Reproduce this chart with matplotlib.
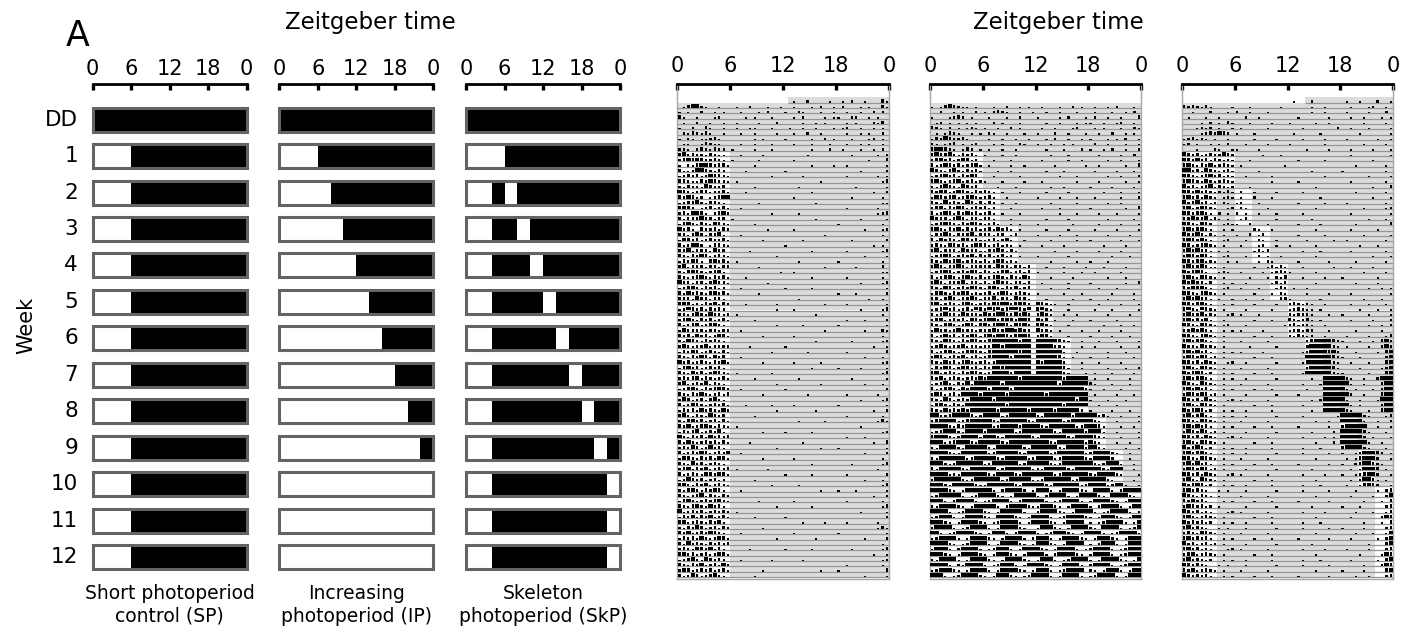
import matplotlib.pyplot as plt
from matplotlib.patches import Rectangle

# ---- schematic light schedules (hours of light), rows: DD, week 1..12 ----
week_labels = ['DD', '1', '2', '3', '4', '5', '6', '7', '8', '9', '10', '11', '12']
sp_light = [[]] + [[(0, 6)]] * 12
ip_light = [[], [(0, 6)], [(0, 8)], [(0, 10)], [(0, 12)], [(0, 14)], [(0, 16)],
            [(0, 18)], [(0, 20)], [(0, 22)], [(0, 24)], [(0, 24)], [(0, 24)]]
skp_light = [[], [(0, 6)], [(0, 4), (6, 8)], [(0, 4), (8, 10)], [(0, 4), (10, 12)],
             [(0, 4), (12, 14)], [(0, 4), (14, 16)], [(0, 4), (16, 18)],
             [(0, 4), (18, 20)], [(0, 4), (20, 22)], [(0, 4), (22, 24)],
             [(0, 4), (22, 24)], [(0, 4), (22, 24)]]
captions = ['Short photoperiod\ncontrol (SP)', 'Increasing\nphotoperiod (IP)',
            'Skeleton\nphotoperiod (SkP)']

# ---- actograms: one string per day, four 6-h chunks of 30-min bins ----
# ' ' none, '.' low, ':' medium, 'i' high, '#' saturated
dd_days = 10
start_hour = [12.5, 24, 14]

sp_act = [
    "//  .  :    . / . :  .   i. .",
    " .i##:.  .  / .  :   .  ./  .   . :  . / :   . .  i.",
    ". .  :  . . /  .   . :   /.  :.   .  . /  .  .  : :",
    "i.  .   .:  /   . .   .  /  . :    . ./.  ::  . . ",
    " .  :  .  ./ .    .   :  /    .  . .   /  . .   :.i",
    ".  :  i.  ./ .  ..   .   / .  .  .   . / .:  .  . .",
    " :.i:.i.  . /  .  .    . /  .  :  .   ./  .  . .  :",
    ". :. ..:i.  /     . .    /.     .  : . /   .   .: .",
    " ..  .i:..  /  .  .   .  /  .   .   .  /  .  . .  .",
    "::. :i:.i:: /.    .   .  /      .   :  / .   .  . :",
    "i#:i::.i:.. /  .    .    /     .      /   .     . :",
    ":i#i#i::i:. /.     .     /  .         /       .   i",
    ". :.i##i:ii./     .      /      .    ./  .        .",
    "i..:##i:.i: /   .        /.          /     .     :",
    ".:i:i.:#ii:./         .  /    .      /  .      . .",
    "ii:..i:#i::./ .          /        .  /          .i",
    ":.i::.#i::i /     .      /   .       /    .      .",
    "#i:.:ii.::i./   .        /      .    /        .  :",
    "i:#i.: .:i##/            /  .        /   .      . ",
    ".:ii#:.ii:. /      .     /       .   /          ..",
    "i#i: .:i.:i./  .         /           /  .      .  ",
    ":i.##i. :i#:/         .  /   .       /         .:i",
    "i.:i:#:i.ii /.           /       .   /     .     .",
    ".i#:.i:.#i:./     .      /           /.         . ",
    "#:i. i::i.i:/        .   /  .        /      .   .:",
    "i:.:#i.i:#. /  .         /         .  /          .",
    ".#i:i.:i::i./       .    /    .      /   .       :",
    "i.:##: .ii:./            /.          /        . . ",
    ":i#.:i:.#:i /    .       /      .    /  .       .i",
    "i:.i:#i.:i:./          . /           /      .    .",
    ".i:#i. i#:i./ .          /   .       /.         . ",
    "i#.:i:.i:.i:/      .     /         .  /    .     :",
    ":.i#i:.:i#. /           ./  .        /          ..",
    "i:.:i#:.i:i./   .        /      .    /  .       . ",
    "#i:.:i.:#i:./        .   /           /     .    .i",
    ".:i#:.i:i.: /  .         /.     .    /           .",
    "i.#:i:.i#:i./      .     /           /.   .      :",
    ":i:.#i:.:i. /            /   .       /       .  . ",
    "i#i.:.i:#.i:/   .      . /         . /  .        .",
    ".:#i:i.i:i: /          . /  .        /     .    .i",
    "i:.i#:.#:i.:/ .          /       .   /          . ",
    ":i#:.i:i.:i./     .      /           /  .   .    :",
    "i.:i#.:i#:. /          . /    .      /.          .",
    ".#:i:i.:i.i:/  .         /         .  /      .   i.",
    "i:i.#:i.:#i./       .    /  .        /          . ",
    ":.#i:.i:i:. /            /       .   /   .      .:",
    "i#:.:i#.i:i:/    .       /.          /        .  .",
    ".i:#i.:i:.i./         .  /     .     /  .        i",
    "i:.i:#i.#:i /  .         /           /      .   . ",
    "#:i.:i:.i:#./       .    /  .     .  /          .:",
    ".i#:i.:i:i. /            /      .    /.    .     .",
    "i:.#:i.:#i:./ .       .  /           /          .i",
    ":i:i#.i:.:i./     .      /   .       /   .       .",
    "i#.:i:#.i:. /          . /        .  /      .   . ",
    ".:i#:.i:i#i:/  .         /.          /           :",
    "i:.i:#:.:i.i/       .    /     .     /  .      .  ",
    ":#i.:i.i#:. /            /           /     .    .i",
    "i.:#i:.:i:i./   .     .  /  .        /.          .",
    ".i:i.#:i:.#:/          . /       .   /        .  :",
    "i#:.i:.#i:i /     .      /           /  .       . ",
    ":.i#:i.:i.i./            /   .     . /         .i.",
    "i:#.:i#:.i:./ .          /           /     .      .",
    ".i:i#.:i:#. /       .    /.     .    /          .:",
    "#:.i:i.#:i:i/            /           /  .   .     .",
    "i.#:.:i:i.i./    .       /    .      /        .  i",
    ":i:#i.:#:i. /          . /        .  /.          .",
    "i.:i:#i.:i:#/  .         /           /      .    :",
    ".#i:.i:i.#i./       .    /  .        /          . ",
    "i:.#:i.:i:. /            /      .    /   .      .i",
    ":i#.i:#.:i:i/ .      .   /           /         .  .",
    "i.:i:.#i:#i./            /.     .    /  .        :",
    ".:#i:i.:i.: /     .      /           /      .   . ",
    "i#:.i:#.:i:./         .  /   .       /          .i",
    ":.i#:.i:#i. /  .         /        .  /.   .      .",
    "i:.:i#.i:.i:/            /           /        .  :",
    ".i#:.:i:i#:./      .     /  .        /  .       . ",
    "i:.i#:.#:i. /          . /      .    /          .i",
    "#.:i:i.:i:i:/ .          /           /     .     .",
    ".i:#.i:#.:i./     .      /.          /           :",
    "i#.:i:.i:#. /            /    .    . /  .      .  ",
    ":.i:#i.:i.i:/       .    /           /         .i.",
    "i:#.:i:#i:. /  .         /  .        /.          .",
    ".i:i.#:.:#i./          . /       .   /      .    :",
    "i.#:i:.i:i:i/            /           /          . ",
    ":i:.#i:#.i. /    .       /.     .    /   .      .i",
    "i#:i.:i.:#i./            /           /        .  .",
    ".:i#:.#i:i: /  .      .  /    .      /          .:",
    "i:.i:#.:i.#:/            /           /  .       . ",
    ":#i.:i:i.:i./       .    /        .  /.          i",
    "i.:#i.:i#:. /     .      /           /      .    .",
]

ip_act = [
    "",
    ". .i#i:.. . /  .  :  . . / .   .  : .  / .  . :   . ",
    "  :  . .  : /. :i:.  .  ./  .  .   .  :/ .   .  . :",
    ".   .:i: .  / .   .  :  /.    . :   . / :  .  .   i",
    " .: . . . ./  : .   .   /  .  .   . . /.  .  .:  . ",
    "i:. : . .:. /.  .  : .  / .  .   .:   / . .   .  :.",
    " . .i:.  . ./ :.  .   . /.   :  .   . /  .  :  . . ",
    ".i:#i::i.  / .  .  .  ./  . :  .  .  /.   . . :  .",
    ":. .:i . .: /  . .   :. /.  .  . .   / :  .   .  .",
    "i##i:. .i: ./ .  .  .   /  .   .   : /.  . :  .  :",
    "i#ii#:.i:i. /.   .  .   /   .   .    /  .    .  :",
    ":i#:i.:#i.: /  .   .    / .     .  . /    .  .   .",
    "i.:#i:i.:i#./ .    .  . /    .      ./  .     .  i",
    "#i:.i#:.i:i./   .  .    /  .   .     / .    .   . ",
    ".:i#:i.i:#i /  .     .  /     .   .  /    .  .   :",
    "i#:.:i#.:i.:/.   .    .  / .       . /  .     .  .",
    ":.i#i:.#i:i /   .   .   /   .  .     /.    .    . ",
    "i:#i.:#i:.i:/i:. .   .  /  .    .    /   .   .   .",
    ".#i:i#.:i#:./:i.  .     /.    .   .  / .     .   :",
    "i:.#:i:.#i.i/.i: .  .   /   .     .  /    .  .    .",
    ":i#.i:#i.:i:/i.:   .    / .   .      /.       .  i",
    "i.:#i.i:#:i./:i. .   .  /     .   .  /  .   .    .",
    "#i:i.:#i.i:./i:.   .    /  .    .    /    .     . :",
    ".:i#i:.i:#i:/.:i.  . .  /.       .   /  .    .   . ",
    "i#:.i:#.i:i./:i.#:i. .  /  .    .    / .    .    .",
    ".:i#:.i:i#.:/i:.i: .:   /.    .   .  /    .    .  :",
    "i.#:i:.#i:i./.:i.:#.  . /   .     .  /.      .   . ",
    ":i:.#i:i.:#i/i.:i.:. .  / .    .     /   .    .   i",
    "i#.:i:.#:i:./.i:#:.i.   /    .    .  /  .    .    .",
    ".:i#i.:i:#.i/:i.:i.: .  /.      .    /     .   .  :",
    "i:.#:i#.:i:./i.:#i.:.   /   .     .  /.   .       .",
    "i#:.:i#i.:i:/:i.#i:.i:.:/  .   .    ./   .    .   .",
    ".:i#i.:i:#i./i:.:i#.:i.i/.     .   .  / .     .    :",
    "i.:i#:.i#:.i/.:i#:.i:.#:/   .    .   /    .   .   .",
    ":#i.:i:#.i:./i.:#i:.:i.:/ .     .    /.       .  i ",
    "i:.#i.:i:#i:/.i#:.i:#.:i/   .   .    /  .   .     .",
    ".i#:.i:#i.:./:i.:#i.:i:./.     .   . /     .    . :",
    "i:.i#:.i:#i./i:#.:i.#i:./  .     .   /.   .     .  ",
    "i#.:i:.i#:.:/i:#i##:i#i:/#i:..  .    /  .    .   . ",
    ".:i#:i.:i.#i/:#i#:i##i:#/i#:.   .    / .   .     . ",
    "i.:#i:.#:i:./#i:##i:#i#:/:#i.  .  .  /    .    .  :",
    ":i#.:i:i.#i:/i##:i#i:##i/#:i .   .   /.     .     .",
    "i:.i#:.:#i.i/#:i##i.#i#:/i#:.   .    /   .   .  .  ",
    ".#i:.i#:i:.:/:i#i:##i#:i/#i:. .    . /  .    .    .",
    "i.:#:i.i:#i./i#:##i:i##i/:#i.   .    /.    .   .  :",
    "i:.#i:.i:#i:/:i######:##/#####i:.  . /  .   .    . ",
    ".i#:.:i#.i:./i:##:######/####:i.   . / .     .   .:",
    "i.:i#:.:i#i:/.i######i##/######.  .  /    .   .   .",
    ":#i.:i:#.:i./:i####:####/#####i. .   /.   .     .  ",
    "i:.#:i.i#:.:/i.:########/#:####:   . /  .    .    .",
    ".i:#i.:#i:i./i:##i######/######i.  . /    .   .  :.",
    "i#.:i:.i:#i:/.:####:####/######:.   ./ .   .    .  ",
    "i:#.:i:.:i:#/:#######:###/######:#####/ .  .    .  .",
    ".:i#:.i:#.##/####:#######/#####:######/i.   .   .  .",
    "i.:i#:.#:###/#:####:#####/###########:/.  .   .    :",
    ":#i.:i.####:/#####:######/##:#########/ .    .   .  .",
    "i:.#i.:i:###/##:#########/#########:##/.   .   .    .",
    ".i#:.i:.####/#####:######/######:#####/  .   .     . ",
    "i:.#:i:#:###/###:######:#/####:#####:/.    .   .  :",
    "##::i####i.:/####.:######/:.######:###/##:i.  .   . ",
    ":i####.:i###/##:.######:./######.:####/#:.   .    . ",
    "####:.i:####/##.:####:###/#:.######.:#/##i.   .  . ",
    ".:i###:.####/:######.:###/####:.#####:/###.  .    .",
    "i###:.:####./###:.######:/.######:.###/#i:.   .   .",
    "###.:i###:.#/####:.######/###:.######./#:.   .  . ",
    ":.####:.####/#:.######:.#/#####:.####:/##:.    .  .",
    "####:..#####/#.:#####:.##/###.:######./:####:.  .  ",
    ":.######.:##/###:.#####.:/####.:#####:/.####:   .  ",
    "###:.:######/.:######.:##/###:.:######/#:.:###.  . ",
    "i.#####:.###/###.:######./:.#####:.###/###:.###  . ",
    "####.:.#####/#:.####:.###/####.:######/:.####:.   .",
    ":######:.:##/####.:#####./.:######.:##/####:.    . ",
    "###:.#####:./.######:.###/##:.######.:/####.:##.  .",
    "####:. .####/##. :####: .#/###. .####:./ ####. :####",
    ".:#####. .:#/###:. .#####/. :####. .##/##:. ####:. ",
    "###. :####. /.:####. :###/##. .:####. /.####:. .###",
    ":.####:. .##/###. :####:./.###:. .####/. :####. .##",
    "####. .:####/:. .#####. /:####:. .###/#. .:####. :#",
    ".:###. .####/:. ####:. .#/###. .:####:/. .###:. .##",
    "###:. .####:/. .:####. .#/###:. .####/. .:####. .##",
    ":####. .:###/#. .####:. /.###:. .####/:. ####. .:##",
    "##. .:####:./ .###. :####/. .:###:. .#/###. .:####.",
    ".:####. .###/#:. .####. :/###. .####:./ .###:. .###",
    "####:. .:###/#. .####:. ./###:. .####/. :###. .####",
    ".###. :####./ .:###. .###/#:. .####. ./:####. .:###",
    "###:. .####:/. .###:. .##/##. :####:. /.####. .:###",
    ":.####. .###/#:. .####:. /.###. .:####/. .####:. .#",
    "####. :.####/. .:###. .##/##:. .####. /:####. .:###",
    ".:###:. .###/#. .####:. ./###. .:####/:. .###. .###",
    "###. .:####:/. .###:. .:#/###. .####. /.:####. .###",
]

skp_act = [
    "// .   :  / .  .   :  . ",
    "i:i:.i.    ./   .      ./     .  .   /  .   .:  . ",
    "  .   :   . /:  .   .   /     .  .   / .    .   :",
    " .   .  .   /  :  .     /  .      .  /  .  .   . .",
    "    . : . i./   .    .  /.     .  .  /     .    . ",
    "   .:.: .  ./ .     .   /   .       :/  .   .    .",
    "    .:i:#i: /.   .      / .     .    /    .      .",
    ".:i.:. .  . /    .    .  /   .    .   / .      .  .",
    ".: .  . . : /  .    .   /.       .   /     .    . ",
    "   .   :.  ./.    .     /    .    .  /  .    .   .",
    "#i:i.:i::#i:/      .   . /           /  .        .",
    "#i:#:i.i:.:./   .        /  .     .  /       .    ",
    "i#:.i:#.:i:./ .         ./           /   .      . ",
    "##:i.#i:.:i./     .      /     .     /.         . ",
    "#i:.:i#:i.:./  .     .   /        .  /      .    .",
    "i#i:.#:.:i:./        .   /  .        /  .       . ",
    "#:i.:i#.i:.:/   .        /      .    /       .   i",
    "#i:#:i:.:.i./ :  .    .  /   .       /   .      . ",
    "i#:i.#:. .:./ .  :   .   /       .   /       .   .",
    "#:i#:i.: :. /.:   .      /  .     .  / .        . ",
    "i#.:#i:.  .:/ :.    .    /      .    /     .    .:",
    "#i:i#:. : . /: .  .   .  /   .       /  .        .",
    "i:#i:#.:. . / .:      .  /     .     /      .   . ",
    "#i:.#i:  .:./.  :   .    /  .    .   /   .       i",
    "i#:i#:.  . ./    :.  .   /      .    /  .     .   .",
    "#:i#i.:. .  /.  : .:     /  .     .  /     .     . ",
    "i#i:#:.  .: /  .  :.  .  /    .     ./ .        . .",
    "#i.:i#:. .  / .   .:  .  /.     .    /    .   .   .",
    "i#:#i:. . . /    .:.:    /   .   .   /  .       . :",
    ":#i:#i.  .: /  .  : .  . /      .    /       .   . ",
    "#i:i#.:.  . /.    . :.   /  .      . /   .      . i",
    "i#:i#:.. .  /    .  .:.:./   .      ./  .    .    .",
    "#:i#i.  .:. / .    . .:i:/.     .    /     .    . :",
    "i#:.#i:. .  /   .   . :.i/   .    .  /.       .   .",
    "#i#:i.:  . ./  .     .:.:/      .    /   .    .   i",
    "i:#i#:.  .: / .   .   .i:/ .  .      /      .  . . ",
    "#i:.i#:. .  /    .   . :./    .    . /  .        .:",
    "i#:#:i. .  ./  .   .   :i/.      .   /     .   .  .",
    "#i:i#:.  . ./    .    .  /:i:.:.  .  /  .   .   . i",
    "i#:.#i:. .  /  .     .   /.:i:.. .   /    .   .  .:",
    ":#i:#.i.  .:/ .   .      /:.i::.   . /.     .    .i",
    "i#:i:#.  .  /    .   .   /i:.:i. .   /  .    .   :.",
    "#i:.#i:. .: /  .        ./:i.::.  .  /      .  . :i",
    "i:#i#:.  . ./ .    .     /.i:.i:   . /   .     .  :",
    "#i:.i#:. .  /    .   .   /:.i:.:  .  / .    .   .i:",
    "i#:i#:.  .  / .     .    /    :i####i:/.   .  . i#:",
    "#i:.#i:. .  /   .     .  /    i#####:./ .    .  :#i#",
    "i#:#:i.  . ./ .    .     /   .:####i#:/   .    . i##",
    ":#i:#i.: .  /    .   .   /    ######i:/.   .     :##",
    "#i:i.#:.  .:/  .      .  /   .i#####:./  .   .   i#:",
    "i#:.#i:. .  / .     .    /    :#####i./    .    .:##",
    "#:i#i.:  . ./    .   .   /   .######:./.     .   i#i",
    "i#:i#:.  . ./  .      .  /     .  ####/#:.  .  :###",
    "#i:.#i:. .  / .     .    /   .   .####/##.  .   i##",
    "i#:#:i.  . ./    .   .   /    .   ####/#. .   . :###",
    ":#i:#i.: .  /  .      .  /  .     ####/##:  .   i##:",
    "#i:i.#:.  .:/ .     .    /     . :####/#.  .   .###",
    "i#:.#i:. .  /    .   .   /   .    ####/##. .    :##i",
    "#:i#i.:  . ./  .     .   /     .  ####/#:.   .  i###",
    "i#:i#:.  . ./  .      .  /   .       ./#####:.   .i",
    "#i:.#i:. .  / .     .    /      .  . /#####.  .  :i",
    "i#:#:i.  . ./    .   .   /  .      . /:#####  .  .:",
    ":#i:#i.: .  /  .      .  /     .    :/#####i.   . i",
    "#i:i.#:.  .:/ .     .    /   .    . ./#####: .   .:",
    "i#:.#i:. .  /    .   .   /      .   :/######.  .  i",
    "#:i#i.:  . ./  .     .   /   .   .   /i####:.   . :",
    "i#:i#:.  . ./  .      .  /   .     . /.  .:###i: . ",
    "#i:.#i:. .  / .     .    /      .    / . .i###:  . ",
    "i#:#:i.  . ./    .   .   /  .      . /.  :i##i:.  .",
    ":#i:#i.: .  /  .      .  /     .     /  . .###i .  ",
    "#i:i.#:.  .:/ .     .    /   .    .  /.  .:i##:  . ",
    "i#:.#i:. .  /    .   .   /      .    /  . :##i. . .",
    "#:i#i.:  . ./  .     .   /   .   .   / .  .i#i:  . ",
    "i#:i:.  . . /  .      .  /   .     . /   .    . :i#",
    "#i:.i:. .   / .     .    /      .    /  .    .  :#i",
    "i:#:i.   . ./    .   .   /  .      . /     .   . i#",
    ":#i:i.: .   /  .      .  /     .     /.   .     :i:",
    "#i:i.:.   .:/ .     .    /   .    .  /   .   .  .i#",
    "i#:.:i:. .  /    .   .   /      .    /  .      :#i:",
    "#:i:i.:  . ./  .     .   /   .   .   /     .   . i#",
    "i#:i:.  . . /  .      .  /   .     . /.    .    :i#",
    ":i:.#i:. .  / .     .    /      .    /   .   .  .#i",
    "i#:i:i.  . ./    .   .   /  .      . /  .     . :#:",
    "#:i.:i.: .  /  .      .  /     .     /      .   i#i",
    "i#:i.:.   .:/ .     .    /   .    .  / .    .   :i#",
    ":i#.:i:. .  /    .   .   /      .    /    .    .#i:",
    "i#:i:.:  . ./  .     .   /   .   .   /  .     . i##",
    "#i:i:.  . . /  .      .  /   .     . /     .   :#i:",
    "i:#.:i:. .  / .     .    /      .    /.    .    i#i",
    "#i:i:i.  . ./    .   .   /  .      . /   .  .   :i#",
]

W, H = 1407, 634
fig = plt.figure(figsize=(W / 100, H / 100), dpi=100)


def add_ax(x0, y0, x1, y1):
    return fig.add_axes([x0 / W, 1 - y1 / H, (x1 - x0) / W, (y1 - y0) / H])


def ftext(x, y, s, **kw):
    fig.text(x / W, 1 - y / H, s, **kw)


def top_axis(ax, pad):
    for side in ['left', 'right', 'bottom']:
        ax.spines[side].set_visible(False)
    ax.spines['top'].set_linewidth(2.0)
    ax.xaxis.tick_top()
    ax.set_xticks([0, 6, 12, 18, 24])
    ax.set_xticklabels(['0', '6', '12', '18', '0'])
    ax.tick_params(axis='x', direction='in', length=4.5, width=2.4,
                   labelsize=15, pad=pad)
    ax.set_yticks([])
    ax.set_xlim(0, 24)


# ---- schematic panels ----
sch_x = [(92.7, 246.7), (279.3, 433.3), (466, 620)]
row0, dy = 119.7, 36.44
for (x0, x1), sched, cap in zip(sch_x, [sp_light, ip_light, skp_light], captions):
    ax = add_ax(x0, 84, x1, 600)
    top_axis(ax, 3.5)
    ax.set_ylim((600 - row0) / dy, (84 - row0) / dy)
    for i, light in enumerate(sched):
        ax.add_patch(Rectangle((0, i - 0.33), 24, 0.66, fc='black', ec='none'))
        for a, b in light:
            ax.add_patch(Rectangle((a, i - 0.33), b - a, 0.66, fc='white', ec='none'))
        ax.add_patch(Rectangle((0, i - 0.33), 24, 0.66, fill=False,
                               ec='#646464', lw=2.2, clip_on=False))
    ftext((x0 + x1) / 2, 584, cap, ha='center', va='top', fontsize=13.5,
          linespacing=1.25)

for i, lab in enumerate(week_labels):
    ftext(78, row0 + dy * i, lab, ha='right', va='center', fontsize=15.5)

ftext(78, 36, 'A', ha='center', va='center', fontsize=25)
ftext(26, 325, 'Week', ha='center', va='center', fontsize=15, rotation=90)
ftext(370, 22, 'Zeitgeber time', ha='center', va='center', fontsize=16.5)
ftext(1058, 22, 'Zeitgeber time', ha='center', va='center', fontsize=16.5)

# ---- actograms ----
bar_style = {'.': (0.24, 0.25), ':': (0.26, 0.45), 'i': (0.28, 0.62), '#': (0.5, 0.68)}
act_x = [(677.3, 889.3), (930, 1141), (1182, 1393)]
row_top, row_h = 97.3, 5.33
n_rows = 90
for (x0, x1), act, sched, s0 in zip(act_x, [sp_act, ip_act, skp_act],
                                    [sp_light, ip_light, skp_light], start_hour):
    ax = add_ax(x0, 84, x1, 579)
    top_axis(ax, 6)
    for side in ['left', 'right', 'bottom']:
        ax.spines[side].set_visible(True)
        ax.spines[side].set_color('#a8a8a8')
        ax.spines[side].set_linewidth(1.0)
    ax.set_ylim((579 - row_top) / row_h, (84 - row_top) / row_h)
    bx, bb, bw, bh = [], [], [], []
    ly, lx0 = [], []
    for r in range(n_rows):
        s = s0 if r == 0 else 0
        if s >= 24:
            continue
        ax.add_patch(Rectangle((s, r), 24 - s, 1, fc='#dcdcdc', ec='none'))
        if r >= dd_days:
            wk = min((r - dd_days) // 7 + 1, 12)
            for a, b in sched[wk]:
                ax.add_patch(Rectangle((a, r), b - a, 1, fc='white', ec='none'))
        ly.append(r + 1)
        lx0.append(s)
        chunks = (act[r].split('/') + [''] * 4)[:4]
        row = ''.join(c.ljust(12)[:12] for c in chunks)
        for k, ch in enumerate(row):
            if ch in bar_style:
                w, h = bar_style[ch]
                bx.append(k * 0.5 + 0.25 - w / 2)
                bw.append(w)
                bh.append(h)
                bb.append(r + 1 - h)
    ax.hlines(ly, lx0, 24, color='#969696', lw=0.9, zorder=2)
    ax.bar(bx, bh, width=bw, bottom=bb, align='edge', color='black',
           linewidth=0, zorder=3)

fig.savefig('out.png', dpi=100)
